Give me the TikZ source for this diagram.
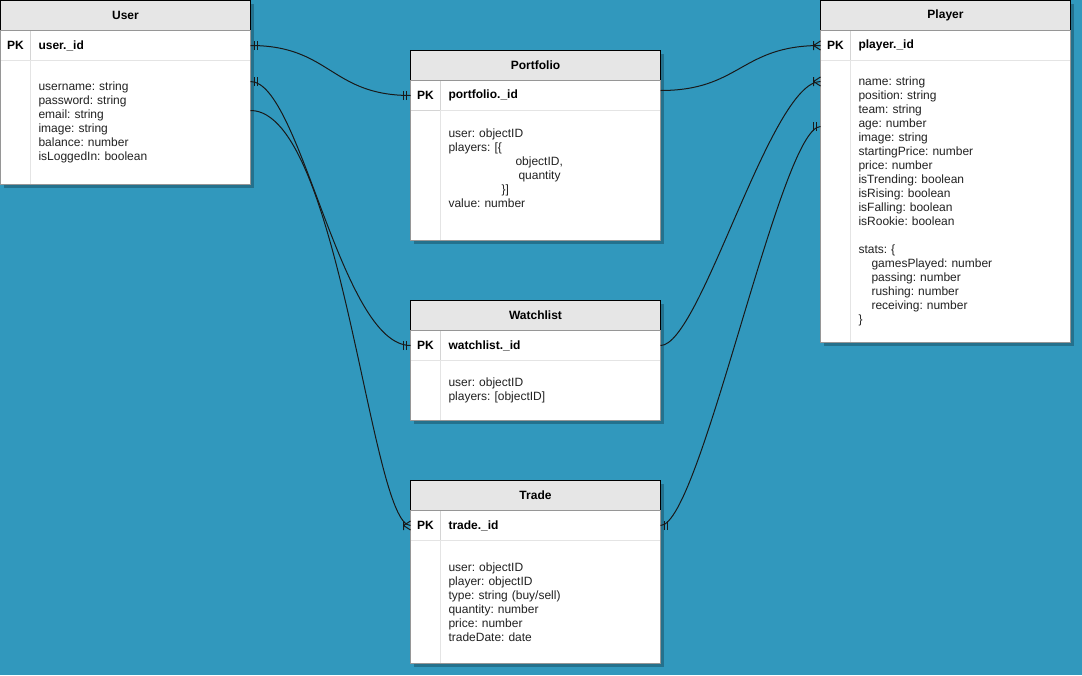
\documentclass[tikz,border=0pt]{standalone}
\usepackage{fontspec}
\setmainfont{Liberation Sans}
\frenchspacing
\usetikzlibrary{positioning, backgrounds, calc}
\definecolor{bgblue}{RGB}{49,152,189}
\definecolor{headgray}{RGB}{230,230,230}
\definecolor{sepgray}{RGB}{212,212,212}
\definecolor{sidegray}{RGB}{228,228,228}
\definecolor{framegray}{RGB}{150,150,150}
\definecolor{inkgray}{RGB}{34,34,34}
\newcommand{\erfont}{\fontsize{12pt}{14pt}\selectfont}
\tikzset{%
  tblhead/.style={draw=black, fill=headgray, minimum width=250pt, minimum height=30pt,
    inner sep=0pt, outer sep=0pt, font=\erfont\bfseries},
  pkcell/.style={draw=sepgray, fill=white, minimum width=30pt, minimum height=30pt,
    inner sep=0pt, outer sep=0pt, font=\erfont\bfseries},
  keycell/.style={draw=sepgray, fill=white, minimum width=220pt, minimum height=30pt,
    text width=204pt, inner xsep=8pt, inner ysep=0pt, outer sep=0pt, align=left,
    font=\erfont\bfseries},
  sidecell/.style={draw=sidegray, fill=white, minimum width=30pt, inner sep=0pt, outer sep=0pt},
  attrcell/.style={draw=sidegray, fill=white, minimum width=220pt, text width=204pt,
    inner xsep=8pt, inner ysep=0pt, outer sep=0pt, align=left, text=inkgray, font=\erfont},
  tblframe/.style={draw=framegray},
  tblshadow/.style={fill=black, opacity=0.25},
  relline/.style={draw=black!90, line width=1pt},
  mandone/.pic={\draw[relline] (4,-4.5) -- (4,4.5) (7,-4.5) -- (7,4.5);},
  onemany/.pic={\draw[relline] (7,-4.5) -- (7,4.5) (7,0) -- (0,4.5) (7,0) -- (0,-4.5);}
}

\begin{document}
\begin{tikzpicture}[x=1pt, y=1pt, line width=1pt]
  \useasboundingbox (0,0) rectangle (1082,-675);

  \node[tblhead] (userhead) at (125.5,-15.5) {User};
  \node[pkcell] (userpk) [below right = 0pt and 0pt of userhead.south west] {PK};
  \node[keycell] (userkey) [right = 0pt of userpk] {user.\_id};
  \node[sidecell, minimum height=124pt] (userside) [below = 0pt of userpk] {};
  \node[attrcell, minimum height=124pt] (userattr) [right = 0pt of userside]
    {username: string\\ password: string\\ email: string\\ image: string\\
     balance: number\\ isLoggedIn: boolean};
  \draw[tblframe] (userpk.north west) rectangle (userattr.south east);

  \node[tblhead] (portfoliohead) at (535.5,-65.5) {Portfolio};
  \node[pkcell] (portfoliopk) [below right = 0pt and 0pt of portfoliohead.south west] {PK};
  \node[keycell] (portfoliokey) [right = 0pt of portfoliopk] {portfolio.\_id};
  \node[sidecell, draw=sepgray, minimum height=130pt] (portfolioside) [below = 0pt of portfoliopk] {};
  \node[attrcell, minimum height=130pt] (portfolioattr) [right = 0pt of portfolioside]
    {user: objectID\\ players: [\{\\ \hspace*{67pt}objectID,\\ \hspace*{70pt}quantity\\
     \hspace*{53pt}\}]\\ value: number\\ \mbox{}};
  \draw[tblframe] (portfoliopk.north west) rectangle (portfolioattr.south east);

  \node[tblhead] (watchlisthead) at (535.5,-315.5) {Watchlist};
  \node[pkcell] (watchlistpk) [below right = 0pt and 0pt of watchlisthead.south west] {PK};
  \node[keycell] (watchlistkey) [right = 0pt of watchlistpk] {watchlist.\_id};
  \node[sidecell, minimum height=60pt] (watchlistside) [below = 0pt of watchlistpk] {};
  \node[attrcell, minimum height=60pt] (watchlistattr) [right = 0pt of watchlistside]
    {user: objectID\\ players: [objectID]};
  \draw[tblframe] (watchlistpk.north west) rectangle (watchlistattr.south east);

  \node[tblhead] (tradehead) at (535.5,-495.5) {Trade};
  \node[pkcell] (tradepk) [below right = 0pt and 0pt of tradehead.south west] {PK};
  \node[keycell] (tradekey) [right = 0pt of tradepk] {trade.\_id};
  \node[sidecell, minimum height=123pt] (tradeside) [below = 0pt of tradepk] {};
  \node[attrcell, minimum height=123pt] (tradeattr) [right = 0pt of tradeside]
    {user: objectID\\ player: objectID\\ type: string (buy/sell)\\ quantity: number\\
     price: number\\ tradeDate: date};
  \draw[tblframe] (tradepk.north west) rectangle (tradeattr.south east);

  \node[tblhead] (playerhead) at (945.5,-15.5) {Player};
  \node[pkcell] (playerpk) [below right = 0pt and 0pt of playerhead.south west] {PK};
  \node[keycell] (playerkey) [right = 0pt of playerpk] {player.\_id};
  \node[sidecell, minimum height=282pt] (playerside) [below = 0pt of playerpk] {};
  \node[attrcell, minimum height=282pt] (playerattr) [right = 0pt of playerside]
    {name: string\\ position: string\\ team: string\\ age: number\\ image: string\\
     startingPrice: number\\ price: number\\ isTrending: boolean\\ isRising: boolean\\
     isFalling: boolean\\ isRookie: boolean\\[14pt]
     stats: \{\\ \hspace*{13pt}gamesPlayed: number\\ \hspace*{13pt}passing: number\\
     \hspace*{13pt}rushing: number\\ \hspace*{13pt}receiving: number\\ \}};
  \draw[tblframe] (playerpk.north west) rectangle (playerattr.south east);

  \begin{scope}[on background layer]
    \fill[bgblue] (0,0) rectangle (1082,-675);
    \foreach \tbl in {user, portfolio, watchlist, trade, player}
      \fill[tblshadow] ([shift={(3,-3)}]\tbl head.north west) rectangle ([shift={(3,-3)}]\tbl attr.south east);
  \end{scope}

  \coordinate (userport1) at (userkey.east);
  \coordinate (userport2) at ($(userattr.north east)+(0,-21)$);
  \coordinate (userport3) at ($(userattr.north east)+(0,-50)$);
  \coordinate (portfolioport1) at (portfoliopk.west);
  \coordinate (portfolioport2) at ($(portfoliokey.east)+(0,5)$);
  \coordinate (watchlistport1) at (watchlistpk.west);
  \coordinate (watchlistport2) at (watchlistkey.east);
  \coordinate (tradeport1) at (tradepk.west);
  \coordinate (tradeport2) at (tradekey.east);
  \coordinate (playerport1) at (playerpk.west);
  \coordinate (playerport2) at ($(playerside.north west)+(0,-21)$);
  \coordinate (playerport3) at ($(playerside.north west)+(0,-66)$);

  \draw[relline] (userport1) .. controls +(80,0) and +(-80,0) .. (portfolioport1);
  \draw[relline] (userport2) .. controls +(50,0) and +(-70,0) .. (watchlistport1);
  \draw[relline] (userport3) .. controls +(90,0) and +(-40,0) .. (tradeport1);
  \draw[relline] (portfolioport2) .. controls +(80,0) and +(-80,0) .. (playerport1);
  \draw[relline] (watchlistport2) .. controls +(40,0) and +(-50,0) .. (playerport2);
  \draw[relline] (tradeport2) .. controls +(40,0) and +(-40,0) .. (playerport3);

  \pic at (userport1) {mandone};
  \pic at (userport2) {mandone};
  \pic[xscale=-1] at (portfolioport1) {mandone};
  \pic[xscale=-1] at (watchlistport1) {mandone};
  \pic[xscale=-1] at (tradeport1) {onemany};
  \pic[xscale=-1] at (playerport1) {onemany};
  \pic[xscale=-1] at (playerport2) {onemany};
  \pic at (tradeport2) {mandone};
  \pic[xscale=-1] at (playerport3) {mandone};
\end{tikzpicture}
\end{document}
